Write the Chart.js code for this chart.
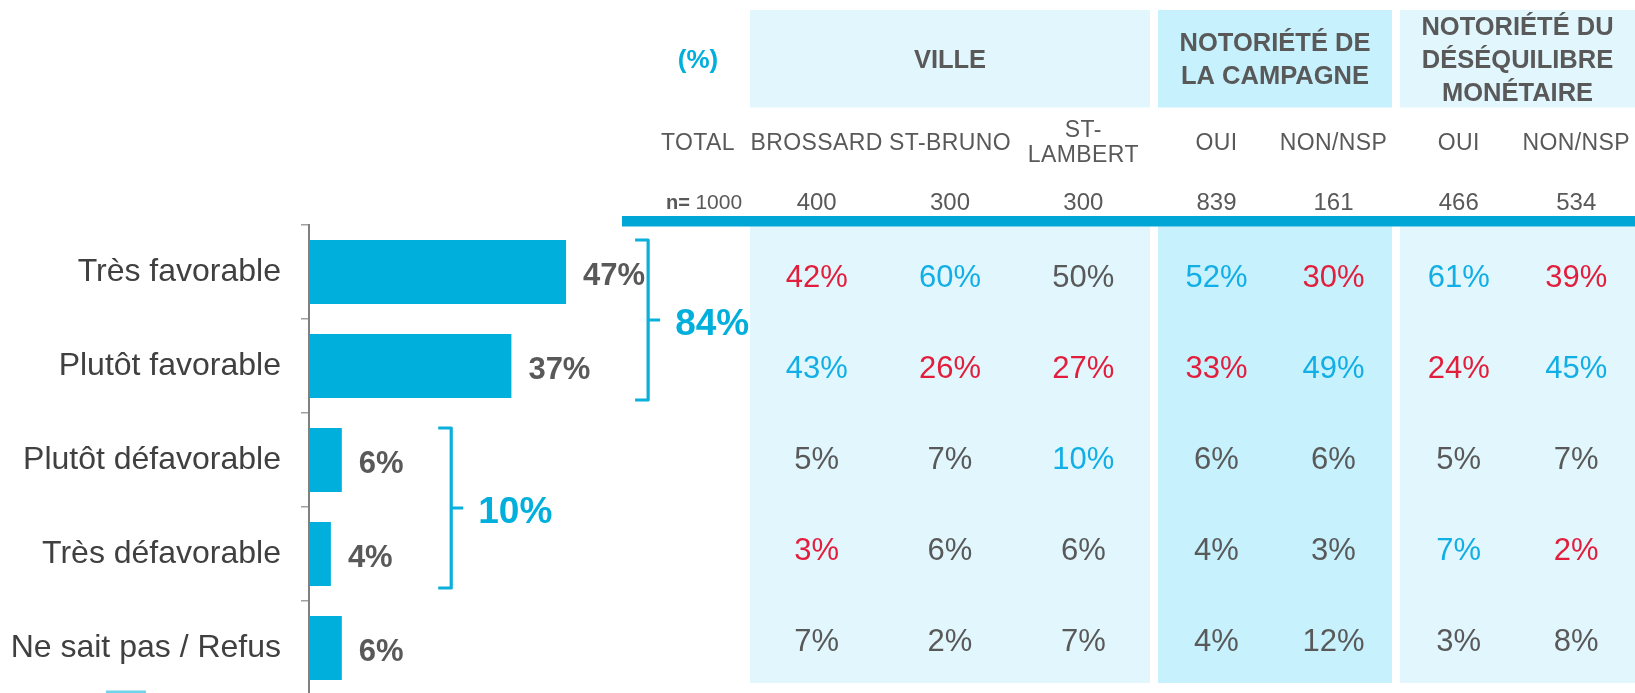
<!DOCTYPE html>
<html>
<head>
<meta charset="utf-8">
<script src="https://cdn.jsdelivr.net/npm/chart.js@4.4.1/dist/chart.umd.min.js"></script>
<style>
  html, body { margin: 0; padding: 0; background: #fff; overflow: hidden; }
  #wrap { position: relative; width: 1635px; height: 693px; overflow: hidden; }
  canvas { position: absolute; left: 0; top: 0; }
</style>
</head>
<body>
<div id="wrap">
  <canvas id="barChart" width="860" height="740"></canvas>
  <canvas id="tableChart" width="1635" height="700"></canvas>
</div>
<script>
// ---- données ----
const categories = ['Très favorable', 'Plutôt favorable', 'Plutôt défavorable', 'Très défavorable', 'Ne sait pas / Refus'];
const totalValues = [47, 37, 6, 4, 6];
const netRows = [[0, 1], [2, 3]];
const netValues = [84, 10];

const groupLabels = [['(%)'], ['VILLE'], ['NOTORIÉTÉ DE', 'LA CAMPAGNE'], ['NOTORIÉTÉ DU', 'DÉSÉQUILIBRE', 'MONÉTAIRE']];
const columnLabels = [['TOTAL'], ['BROSSARD'], ['ST-BRUNO'], ['ST-', 'LAMBERT'], ['OUI'], ['NON/NSP'], ['OUI'], ['NON/NSP']];
const columnGroup = [0, 1, 1, 1, 2, 2, 3, 3];
const sampleSizes = [1000, 400, 300, 300, 839, 161, 466, 534];

const brossard = [42, 43, 5, 3, 7];
const stBruno = [60, 26, 7, 6, 2];
const stLambert = [50, 27, 10, 6, 7];
const campagneOui = [52, 33, 6, 4, 4];
const campagneNon = [30, 49, 6, 3, 12];
const desequilibreOui = [61, 24, 5, 7, 3];
const desequilibreNon = [39, 45, 7, 2, 8];

// écart significatif vs total : 1 = supérieur, -1 = inférieur, 0 = non
const sigBrossard = [-1, 1, 0, -1, 0];
const sigStBruno = [1, -1, 0, 0, 0];
const sigStLambert = [0, -1, 1, 0, 0];
const sigCampagneOui = [1, -1, 0, 0, 0];
const sigCampagneNon = [-1, 1, 0, 0, 0];
const sigDesequilibreOui = [1, -1, 0, 1, 0];
const sigDesequilibreNon = [-1, 1, 0, -1, 0];

const cellColumns = [brossard, stBruno, stLambert, campagneOui, campagneNon, desequilibreOui, desequilibreNon];
const cellSig = [sigBrossard, sigStBruno, sigStLambert, sigCampagneOui, sigCampagneNon, sigDesequilibreOui, sigDesequilibreNon];

// ---- mise en page ----
const FONT = '"Liberation Sans", Arial, sans-serif';
const BLUE = '#00AFDB';
const GRAY = '#595959';
const BRACKET_POS = [62, 26]; // position des accolades, en % de l'axe
const COL_WIDTHS = [104, 133.33, 133.33, 133.33, 117, 117, 117.5, 117.5];
const GROUP_GAP = 8;

var colStart = [], colEnd = [], pos = 0;
COL_WIDTHS.forEach(function (w, i) {
  if (i > 1 && columnGroup[i] !== columnGroup[i - 1]) pos += GROUP_GAP;
  colStart.push(pos);
  pos += w;
  colEnd.push(pos);
});
var tableWidth = pos;
var colCenter = colStart.map(function (s, i) { return (s + colEnd[i]) / 2; });

// ---- graphique à barres (TOTAL) ----
var barLabels = {
  id: 'barLabels',
  afterDatasetsDraw: function (chart) {
    var ctx = chart.ctx;
    var meta = chart.getDatasetMeta(0);
    ctx.save();
    ctx.font = 'bold 31px ' + FONT;
    ctx.fillStyle = GRAY;
    ctx.textAlign = 'left';
    ctx.textBaseline = 'middle';
    meta.data.forEach(function (bar, i) {
      ctx.fillText(totalValues[i] + '%', bar.x + 17, bar.y + 4);
    });

    // accolades des regroupements
    netRows.forEach(function (rows, k) {
      var first = meta.data[rows[0]], last = meta.data[rows[rows.length - 1]];
      var top = first.y - first.height / 2;
      var bottom = last.y + last.height / 2 + 2;
      var mid = (top + bottom) / 2;
      var x = chart.scales.x.getPixelForValue(BRACKET_POS[k]);
      ctx.strokeStyle = '#0AAFDB';
      ctx.lineWidth = 3.2;
      ctx.lineJoin = 'round';
      ctx.beginPath();
      ctx.moveTo(x - 13, top);
      ctx.lineTo(x, top);
      ctx.lineTo(x, bottom);
      ctx.lineTo(x - 13, bottom);
      ctx.moveTo(x, mid);
      ctx.lineTo(x + 12, mid);
      ctx.stroke();
      ctx.font = 'bold 37px ' + FONT;
      ctx.fillStyle = BLUE;
      ctx.fillText(netValues[k] + '%', x + 27, mid + 4.5);
    });

    // bout de légende coupé en bas
    ctx.fillStyle = '#6FD3EC';
    ctx.fillRect(106, 690.5, 40, 10);
    ctx.restore();
  }
};

new Chart(document.getElementById('barChart'), {
  type: 'bar',
  data: {
    labels: categories,
    datasets: [{
      data: totalValues,
      backgroundColor: BLUE,
      categoryPercentage: 1,
      barPercentage: 0.681,
    }]
  },
  options: {
    indexAxis: 'y',
    responsive: false,
    animation: false,
    events: [],
    layout: { padding: { left: 0, top: 225, right: 4, bottom: 45 }, autoPadding: false },
    scales: {
      x: { display: false, min: 0, max: 100 },
      y: {
        afterFit: function (scale) { scale.width = 309; },
        grid: { drawOnChartArea: false, tickLength: 8, color: '#A0A0A0', lineWidth: 1.5, offset: true },
        border: { color: '#808080', width: 2 },
        ticks: { color: '#404040', font: { family: FONT, size: 32 }, padding: 20 }
      }
    },
    plugins: { legend: { display: false }, tooltip: { enabled: false } }
  },
  plugins: [barLabels]
});

// ---- tableau des sous-groupes ----
var tableDraw = {
  id: 'tableDraw',
  beforeDatasetsDraw: function (chart) {
    var ctx = chart.ctx, xs = chart.scales.x, area = chart.chartArea;
    ctx.save();
    // cadres des groupes
    for (var g = 1; g < groupLabels.length; g++) {
      var s = Infinity, e = -Infinity;
      columnGroup.forEach(function (cg, i) {
        if (cg === g) { s = Math.min(s, colStart[i]); e = Math.max(e, colEnd[i]); }
      });
      var x0 = xs.getPixelForValue(s), x1 = xs.getPixelForValue(e);
      ctx.fillStyle = g === 2 ? '#C6F1FD' : '#E1F7FD';
      ctx.fillRect(x0, 10, x1 - x0, 97.5);
      ctx.fillRect(x0, 226.5, x1 - x0, area.bottom - 3 - 226.5);
    }
    // bande bleue
    ctx.fillStyle = '#00A6D6';
    ctx.fillRect(area.left - 24, 216, area.right - area.left + 24, 10.5);

    ctx.textAlign = 'center';
    ctx.textBaseline = 'middle';
    // en-têtes de groupes
    groupLabels.forEach(function (lines, g) {
      var cols = [];
      columnGroup.forEach(function (cg, i) { if (cg === g) cols.push(i); });
      var cx = xs.getPixelForValue((colStart[cols[0]] + colEnd[cols[cols.length - 1]]) / 2);
      ctx.font = 'bold ' + (g === 0 ? 26 : 25.5) + 'px ' + FONT;
      ctx.fillStyle = g === 0 ? BLUE : GRAY;
      lines.forEach(function (t, l) {
        ctx.fillText(t, cx, 60.5 + (l - (lines.length - 1) / 2) * 33);
      });
    });
    // en-têtes de colonnes
    ctx.font = '23px ' + FONT;
    ctx.fillStyle = GRAY;
    ctx.letterSpacing = '0.4px';
    columnLabels.forEach(function (lines, i) {
      var cx = xs.getPixelForValue(colCenter[i]);
      lines.forEach(function (t, l) {
        ctx.fillText(t, cx, 143.5 + (l - (lines.length - 1) / 2) * 25);
      });
    });
    ctx.letterSpacing = '0px';
    // effectifs
    sampleSizes.forEach(function (n, i) {
      var cx = xs.getPixelForValue(colCenter[i]);
      if (i === 0) {
        ctx.font = 'bold 20px ' + FONT;
        var w1 = ctx.measureText('n= ').width;
        ctx.font = '21px ' + FONT;
        var w2 = ctx.measureText(String(n)).width;
        var left = cx + 6 - (w1 + w2) / 2;
        ctx.textAlign = 'left';
        ctx.font = 'bold 20px ' + FONT;
        ctx.fillText('n=', left, 203.5);
        ctx.font = '21px ' + FONT;
        ctx.fillText(String(n), left + w1, 203.5);
        ctx.textAlign = 'center';
      } else {
        ctx.font = '24px ' + FONT;
        ctx.fillText(String(n), cx, 203.5);
      }
    });
    ctx.restore();
  },
  afterDatasetsDraw: function (chart) {
    var ctx = chart.ctx;
    ctx.save();
    ctx.font = '31px ' + FONT;
    ctx.textAlign = 'center';
    ctx.textBaseline = 'middle';
    chart.data.datasets.forEach(function (ds, i) {
      chart.getDatasetMeta(i).data.forEach(function (pt, j) {
        var cell = ds.data[j];
        ctx.fillStyle = cell.s > 0 ? '#12AEE6' : (cell.s < 0 ? '#E31E3C' : GRAY);
        ctx.fillText(cell.v + '%', pt.x, pt.y + 1.5);
      });
    });
    ctx.restore();
  }
};

var tableDatasets = cellColumns.map(function (col, i) {
  return {
    label: columnLabels[i + 1].join(' '),
    data: col.map(function (v, r) {
      return { x: colCenter[i + 1], y: categories[r], v: v, s: cellSig[i][r] };
    }),
    pointRadius: 0
  };
});

new Chart(document.getElementById('tableChart'), {
  type: 'scatter',
  data: { datasets: tableDatasets },
  options: {
    responsive: false,
    animation: false,
    events: [],
    layout: { padding: { left: 1635 - tableWidth, top: 231, right: 0, bottom: 14 }, autoPadding: false },
    scales: {
      x: { type: 'linear', display: false, min: 0, max: tableWidth },
      y: { type: 'category', labels: categories, offset: true, display: false }
    },
    plugins: { legend: { display: false }, tooltip: { enabled: false } }
  },
  plugins: [tableDraw]
});
</script>
</body>
</html>
